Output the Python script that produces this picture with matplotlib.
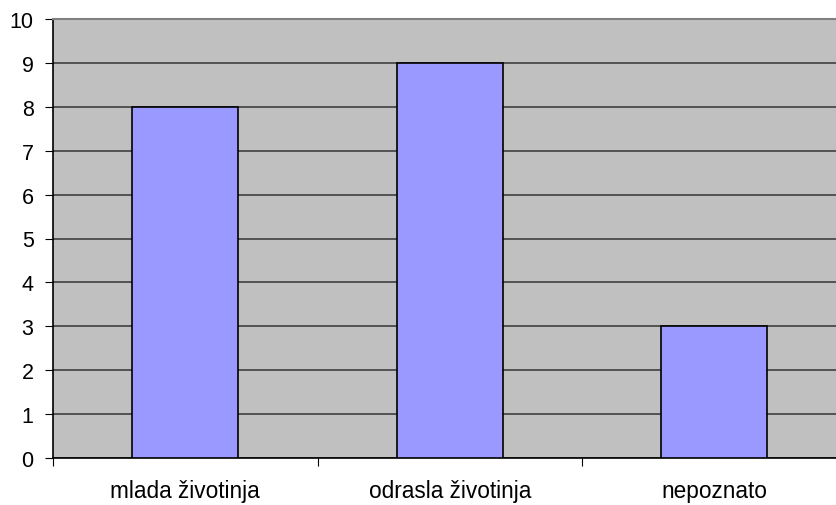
import matplotlib
matplotlib.use("Agg")
import matplotlib.pyplot as plt
import numpy as np

categories = ["mlada životinja", "odrasla životinja", "nepoznato"]
values = [8, 9, 3]
y_ticks = list(range(0, 11))

plt.rcParams["font.family"] = ["Liberation Sans", "DejaVu Sans"]

W, H = 836, 506
fig = plt.figure(figsize=(W / 100, H / 100), dpi=100)
left, top, bottom = 53, 20, 459
ax = fig.add_axes([left / W, (H - bottom) / H, (W - left) / W, (bottom - top) / H])

cat_w = 264.5
ax.set_facecolor("#C0C0C0")
x = np.arange(len(categories)) + 0.5
ax.bar(x, values, width=0.4, color="#9999FF", edgecolor="black", linewidth=1.2, zorder=3)

ax.set_yticks(y_ticks)
ax.yaxis.grid(True, color="#404040", linewidth=1.2, zorder=1)
ax.set_axisbelow(True)

ax.set_xticks(np.arange(len(categories) + 1))
ax.set_xticklabels([])
ax.set_xticks(x, minor=True)
ax.set_xticklabels(categories, minor=True)
ax.tick_params(axis="x", which="minor", length=0, pad=15, labelsize=16.3)
ax.tick_params(axis="x", which="major", length=6, direction="out", color="black")
ax.tick_params(axis="y", length=6, direction="out", labelsize=15.5, pad=8)

ax.set_xlim(0, (W - left) / cat_w)
ax.set_ylim(0, 10)

ax.spines["right"].set_visible(False)
ax.spines["top"].set_color("#808080")
ax.spines["top"].set_linewidth(1.5)
ax.spines["left"].set_color("black")
ax.spines["bottom"].set_color("black")
ax.spines["left"].set_linewidth(1.2)
ax.spines["bottom"].set_linewidth(1.2)

fig.savefig("out.png", dpi=100)
